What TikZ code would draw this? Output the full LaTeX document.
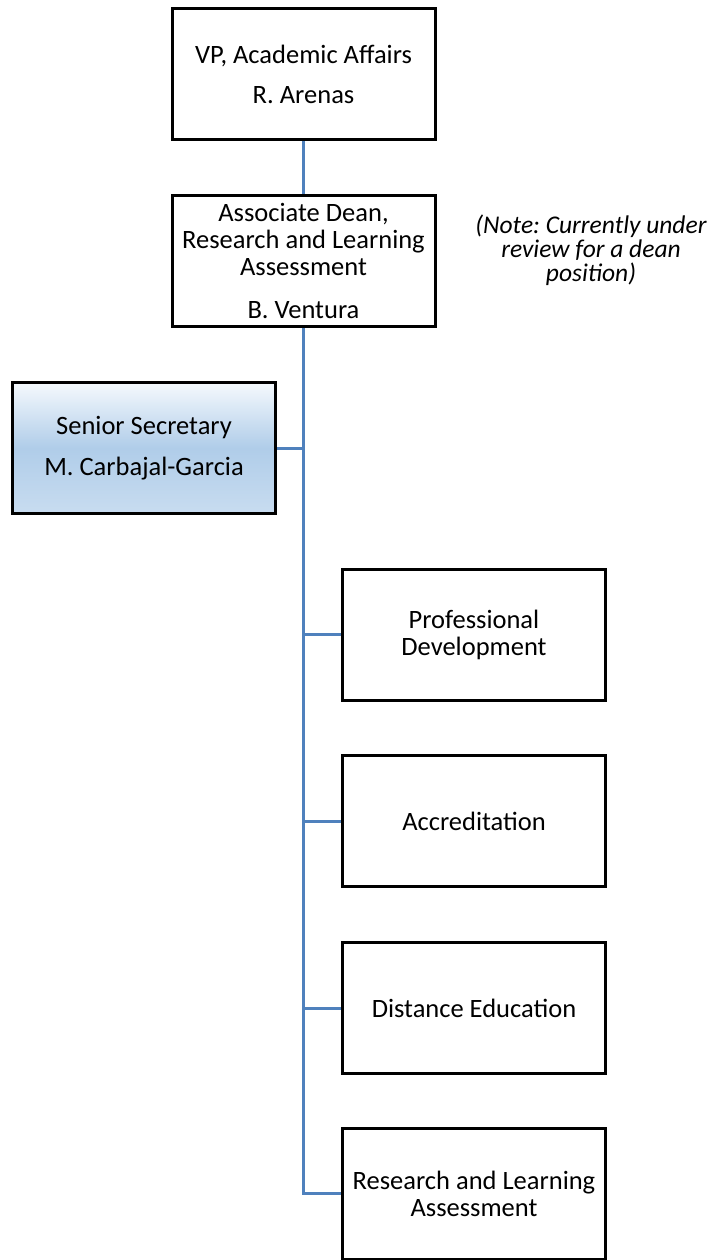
\documentclass[tikz,border=0pt]{standalone}
\usepackage{fontspec}
\setmainfont{Carlito}
\frenchspacing
\definecolor{orgblue}{HTML}{4F81BD}
\definecolor{secTop}{HTML}{F5F9FD}
\definecolor{secMid}{HTML}{B0CDE9}
\definecolor{secBot}{HTML}{C8DCF0}
\tikzset{
  orgbox/.style={draw=black, line width=3pt, minimum width=263pt, minimum height=131pt,
    inner sep=0pt, align=center, font=\fontsize{26.5}{27}\selectfont},
  secbox/.style={orgbox, top color=secTop, bottom color=secBot, middle color=secMid},
  orgline/.style={draw=orgblue, line width=3pt}
}
\begin{document}
\begin{tikzpicture}[x=1pt, y=-1pt]
    \useasboundingbox (0,0) rectangle (717,1260);

    % Vertici dell'organigramma
    \node[orgbox] (vp) at (303.5,74.5) {VP, Academic Affairs\\[13pt] R. Arenas};
    \node[orgbox] (dean) at (303.5,261) {Associate Dean,\\ Research and Learning\\ Assessment\\[16pt] B. Ventura};
    \node[secbox] (sec) at (144,448) {Senior Secretary\\[14pt] M. Carbajal-Garcia};

    % Uffici subordinati
    \node[orgbox] (prof) at (474,634.5) {Professional\\ Development};
    \node[orgbox] (accr) at (474,821) {Accreditation};
    \node[orgbox] (dist) at (474,1008) {Distance Education};
    \node[orgbox] (rla) at (474,1193.5) {Research and Learning\\ Assessment};

    % Nota
    \node[align=center, font=\fontsize{25.5}{24}\selectfont\itshape] (note) at (591,250)
      {(Note: Currently under\\ review for a dean\\ position)};

    % Collegamenti
    \draw[orgline] (vp) -- (dean);
    \draw[orgline] (dean.south) -- (dean.south |- rla.west) -- (rla.west);
    \draw[orgline] (sec.east) -- (sec.east -| dean.south);
    \foreach \n in {prof,accr,dist}
      \draw[orgline] (\n.west) -- (\n.west -| dean.south);
\end{tikzpicture}
\end{document}
